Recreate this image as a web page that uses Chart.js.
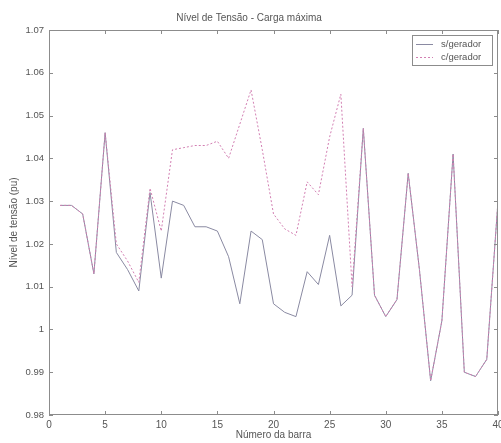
<!DOCTYPE html>
<html>
<head>
<meta charset="utf-8">
<script src="https://cdn.jsdelivr.net/npm/chart.js@4.4.0/dist/chart.umd.min.js"></script>
<style>
  html, body { margin: 0; padding: 0; background: #fff; }
</style>
</head>
<body>
<canvas id="voltChart" width="501" height="443"></canvas>
<script>
// bus numbers and voltage levels (pu)
let barras = [1, 2, 3, 4, 5, 6, 7, 8, 9, 10,
  11, 12, 13, 14, 15, 16, 17, 18, 19, 20,
  21, 22, 23, 24, 25, 26, 27, 28, 29, 30,
  31, 32, 33, 34, 35, 36, 37, 38, 39, 40];

let semGerador = [1.029, 1.029, 1.027, 1.013, 1.046, 1.018, 1.014, 1.009, 1.032, 1.012,
  1.030, 1.029, 1.024, 1.024, 1.023, 1.017, 1.006, 1.023, 1.021, 1.006,
  1.004, 1.003, 1.0135, 1.0105, 1.022, 1.0055, 1.008, 1.047, 1.008, 1.003,
  1.007, 1.0365, 1.014, 0.988, 1.002, 1.041, 0.990, 0.989, 0.993, 1.030];

let comGerador = [1.029, 1.029, 1.027, 1.013, 1.046, 1.020, 1.016, 1.011, 1.033, 1.023,
  1.042, 1.0425, 1.043, 1.043, 1.044, 1.040, 1.048, 1.056, 1.042, 1.027,
  1.0235, 1.022, 1.0345, 1.0315, 1.045, 1.055, 1.010, 1.047, 1.008, 1.003,
  1.007, 1.0365, 1.014, 0.988, 1.002, 1.041, 0.990, 0.989, 0.993, 1.030];

let seriesNames = ['s/gerador', 'c/gerador'];
let seriesColors = ['#8a8aa2', '#d27fb2'];

let xMin = 0, xMax = 40, xStep = 5;
let yMin = 0.98, yMax = 1.07, yStep = 0.01;

let fontFam = '"Liberation Sans", Arial, sans-serif';
let textColor = '#555';
let frameColor = '#8c8c8c';

// box around plot + inward ticks, like matlab axes
let frameTicks = {
  id: 'frameTicks',
  afterDraw(chart) {
    let ctx = chart.ctx;
    let a = chart.chartArea;
    let xs = chart.scales.x, ys = chart.scales.y;
    ctx.save();
    ctx.strokeStyle = frameColor;
    ctx.lineWidth = 1;
    ctx.strokeRect(a.left + 0.5, a.top + 0.5, a.right - a.left - 1, a.bottom - a.top - 1);
    ctx.beginPath();
    xs.ticks.forEach(t => {
      let px = Math.round(xs.getPixelForValue(t.value)) + 0.5;
      ctx.moveTo(px, a.bottom); ctx.lineTo(px, a.bottom - 4);
      ctx.moveTo(px, a.top); ctx.lineTo(px, a.top + 4);
    });
    ys.ticks.forEach(t => {
      let py = Math.round(ys.getPixelForValue(t.value)) + 0.5;
      ctx.moveTo(a.left, py); ctx.lineTo(a.left + 4, py);
      ctx.moveTo(a.right, py); ctx.lineTo(a.right - 4, py);
    });
    ctx.stroke();
    ctx.restore();
  }
};

// legend box in the top right corner
let boxLegend = {
  id: 'boxLegend',
  afterDraw(chart) {
    let ctx = chart.ctx;
    let bx = 412, by = 35, bw = 80, bh = 30;
    ctx.save();
    ctx.fillStyle = '#fff';
    ctx.fillRect(bx, by, bw, bh);
    ctx.strokeStyle = frameColor;
    ctx.lineWidth = 1;
    ctx.strokeRect(bx + 0.5, by + 0.5, bw, bh);
    ctx.font = '9.5px ' + fontFam;
    ctx.textBaseline = 'middle';
    chart.data.datasets.forEach((ds, i) => {
      let ly = by + 9 + i * 13 + 0.5;
      ctx.strokeStyle = ds.borderColor;
      ctx.setLineDash(ds.borderDash || []);
      ctx.beginPath();
      ctx.moveTo(bx + 4, ly);
      ctx.lineTo(bx + 21, ly);
      ctx.stroke();
      ctx.setLineDash([]);
      ctx.fillStyle = textColor;
      ctx.fillText(ds.label, bx + 29, ly);
    });
    ctx.restore();
  }
};

let ctx = document.getElementById('voltChart').getContext('2d');
let voltChart = new Chart(ctx, {
  type: 'line',
  data: {
    datasets: [
      {
        label: seriesNames[0],
        data: barras.map((b, i) => ({x: b, y: semGerador[i]})),
        borderColor: seriesColors[0],
        borderWidth: 1,
        pointRadius: 0,
        tension: 0,
        order: 1
      },
      {
        label: seriesNames[1],
        data: barras.map((b, i) => ({x: b, y: comGerador[i]})),
        borderColor: seriesColors[1],
        borderWidth: 1,
        borderDash: [2, 2],
        pointRadius: 0,
        tension: 0,
        order: 0
      }
    ]
  },
  options: {
    responsive: false,
    animation: false,
    layout: { padding: { left: 0, right: 3, top: 0, bottom: 0 } },
    plugins: {
      legend: { display: false },
      tooltip: { enabled: false },
      title: {
        display: true,
        text: 'Nível de Tensão - Carga máxima',
        color: textColor,
        font: { family: fontFam, size: 10, weight: 'normal', lineHeight: 1.2 },
        padding: { top: 12, bottom: 6 }
      }
    },
    scales: {
      x: {
        type: 'linear',
        min: xMin,
        max: xMax,
        grid: { display: false, drawTicks: false },
        border: { display: false },
        ticks: {
          stepSize: xStep,
          color: textColor,
          padding: 4,
          maxRotation: 0,
          font: { family: fontFam, size: 10 }
        },
        title: {
          display: true,
          text: 'Número da barra',
          color: textColor,
          font: { family: fontFam, size: 10 },
          padding: { top: 0, bottom: 2 }
        },
        afterFit(scale) {
          scale.height = 28;
          scale.paddingLeft = 0;
          scale.paddingRight = 0;
        }
      },
      y: {
        min: yMin,
        max: yMax,
        grid: { display: false, drawTicks: false },
        border: { display: false },
        ticks: {
          stepSize: yStep,
          color: textColor,
          padding: 5,
          font: { family: fontFam, size: 9.5 },
          callback: v => parseFloat(v.toFixed(2)).toString()
        },
        title: {
          display: true,
          text: 'Nível de tensão (pu)',
          color: textColor,
          font: { family: fontFam, size: 10 },
          padding: { top: 8, bottom: 0 }
        },
        afterFit(scale) {
          scale.width = 49;
          scale.paddingTop = 0;
          scale.paddingBottom = 0;
        }
      }
    }
  },
  plugins: [frameTicks, boxLegend]
});
</script>
</body>
</html>
